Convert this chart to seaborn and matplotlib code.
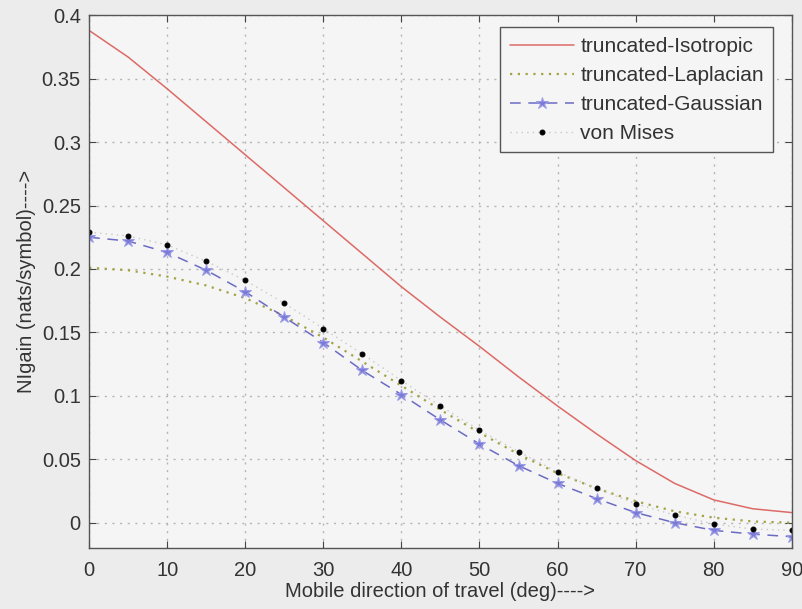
import numpy as np
import pandas as pd
import matplotlib
matplotlib.use("Agg")
import matplotlib.pyplot as plt
import seaborn as sns

# Mobile direction of travel (degrees)
direction = [0, 5, 10, 15, 20, 25, 30, 35, 40, 45, 50, 55, 60, 65, 70, 75, 80, 85, 90]

isotropic = [0.388, 0.367, 0.342, 0.316, 0.290, 0.264, 0.238, 0.212, 0.186, 0.162,
             0.139, 0.115, 0.092, 0.070, 0.049, 0.031, 0.018, 0.011, 0.008]
laplacian = [0.201, 0.199, 0.194, 0.187, 0.177, 0.163, 0.146, 0.127, 0.108, 0.089,
             0.071, 0.054, 0.039, 0.027, 0.017, 0.009, 0.004, 0.001, 0.000]
gaussian = [0.225, 0.222, 0.213, 0.199, 0.182, 0.162, 0.142, 0.120, 0.101, 0.081,
            0.062, 0.045, 0.031, 0.019, 0.008, 0.000, -0.006, -0.009, -0.011]
von_mises = [0.229, 0.226, 0.219, 0.206, 0.191, 0.173, 0.153, 0.133, 0.112, 0.092,
             0.073, 0.056, 0.040, 0.027, 0.015, 0.006, -0.001, -0.005, -0.006]

x_ticks = [0, 10, 20, 30, 40, 50, 60, 70, 80, 90]
y_ticks = [0, 0.05, 0.1, 0.15, 0.2, 0.25, 0.3, 0.35, 0.4]
y_tick_labels = ["0", "0.05", "0.1", "0.15", "0.2", "0.25", "0.3", "0.35", "0.4"]

sns.set_style("ticks")
plt.rcParams["font.family"] = ["Liberation Sans", "DejaVu Sans"]

df = pd.DataFrame({
    "deg": direction,
    "truncated-Isotropic": isotropic,
    "truncated-Laplacian": laplacian,
    "truncated-Gaussian": gaussian,
    "von Mises": von_mises,
})

fig = plt.figure(figsize=(8.03, 6.09), dpi=100, facecolor="#ececec")
ax = fig.add_axes([0.111, 0.100, 0.875, 0.875])
ax.set_facecolor("#f5f5f5")

sns.lineplot(data=df, x="deg", y="truncated-Isotropic", ax=ax, color="#dc6a66",
             linewidth=1.1, label="truncated-Isotropic")
sns.lineplot(data=df, x="deg", y="truncated-Laplacian", ax=ax, color="#a3a345",
             linewidth=1.6, linestyle=(0, (1, 2.5)), label="truncated-Laplacian")
sns.lineplot(data=df, x="deg", y="truncated-Gaussian", ax=ax, color="#6b6bc4",
             linewidth=1.1, linestyle=(0, (7, 5)), marker="*", markersize=9,
             markerfacecolor="#7a7ad8", markeredgecolor="#9a9ae6",
             label="truncated-Gaussian")
sns.lineplot(data=df, x="deg", y="von Mises", ax=ax, color="#c8c8c8",
             linewidth=1.0, linestyle=(0, (1, 3)), marker="o", markersize=3.5,
             markerfacecolor="black", markeredgecolor="black", label="von Mises")

ax.set_xlim(0, 90)
ax.set_ylim(-0.02, 0.4)
ax.set_xticks(x_ticks)
ax.set_yticks(y_ticks)
ax.set_yticklabels(y_tick_labels)
ax.grid(True, color="#b5b5b5", linestyle=(0, (1.5, 4)), linewidth=1.0)
ax.tick_params(direction="in", length=5, labelsize=14.5, colors="#444444",
               labelcolor="#333333", top=True, right=True)
ax.tick_params(axis="x", pad=9)
ax.tick_params(axis="y", pad=6)
for s in ax.spines.values():
    s.set_color("#555555")
    s.set_linewidth(1.0)

ax.set_xlabel("Mobile direction of travel (deg)---->", fontsize=14.5, color="#333333",
              labelpad=2)
ax.set_ylabel("NIgain (nats/symbol)---->", fontsize=14.5, color="#333333", labelpad=4)

leg = ax.legend(loc="upper right", bbox_to_anchor=(0.974, 0.977), fontsize=15,
                frameon=True, fancybox=False, framealpha=1, edgecolor="#555555",
                handlelength=3.1, borderpad=0.45, labelspacing=0.48, handletextpad=0.3,
                borderaxespad=0.0)
leg.get_frame().set_facecolor("#f5f5f5")
leg.get_frame().set_linewidth(1.0)
for t in leg.get_texts():
    t.set_color("#333333")

fig.savefig("out.png", dpi=100, facecolor=fig.get_facecolor())
